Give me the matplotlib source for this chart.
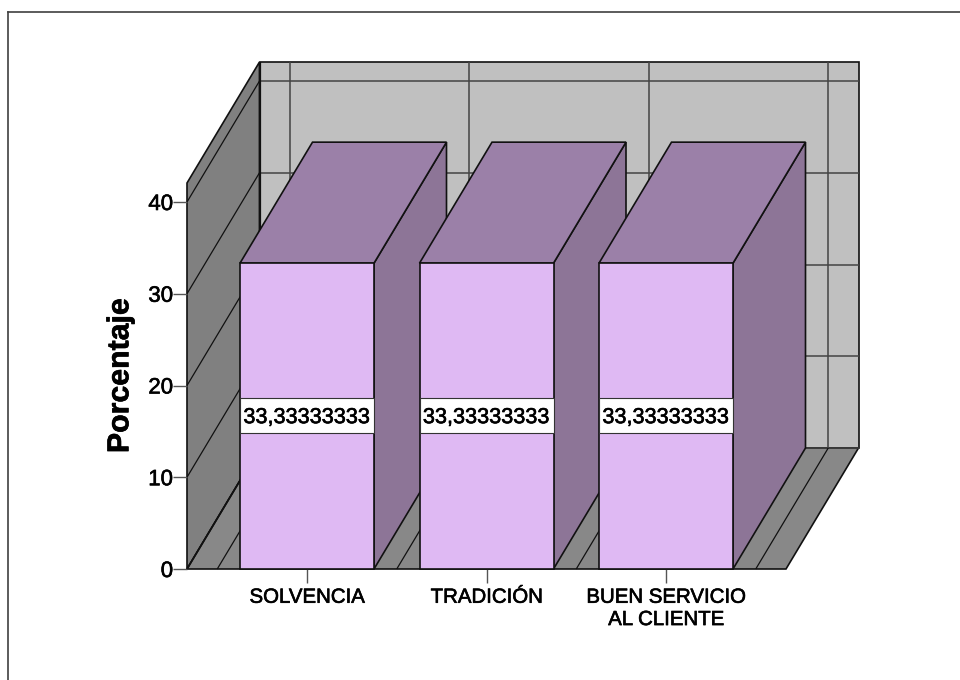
import matplotlib
matplotlib.use('Agg')
import matplotlib.pyplot as plt
import matplotlib.patheffects as pe
from matplotlib.lines import Line2D
from matplotlib.patches import Polygon, Rectangle

plt.rcParams['font.family'] = ['Liberation Sans', 'DejaVu Sans']

categorias = ['SOLVENCIA', 'TRADICIÓN', 'BUEN SERVICIO\nAL CLIENTE']
valores = [33.33333333, 33.33333333, 33.33333333]
ticks_y = [0, 10, 20, 30, 40]

W, H = 960, 680

# plano frontal del grafico en pixeles
izq, der, abajo, arriba = 187, 786, 569, 183
paso_x = 179.5
centro_0 = 307
x0 = (izq - centro_0) / paso_x
x1 = (der - centro_0) / paso_x
y_max = (abajo - arriba) / 9.175

# desplazamiento oblicuo de la profundidad, en unidades de datos
prof_x = 72.5 / paso_x
prof_y = 121 / 9.175
ancho_barra = 134 / paso_x
alto_caja = 35 / 9.175

c_pared = '#808080'
c_piso = '#888888'
c_fondo = '#c0c0c0'
c_frente = '#dfb9f3'
c_tapa = '#9b80a8'
c_lado = '#8d7597'

# trazo fino para engrosar el texto
grueso = [pe.withStroke(linewidth=0.45, foreground='black')]

fig = plt.figure(figsize=(W / 100, H / 100), dpi=100, facecolor='white')

# solo hay borde arriba y a la izquierda
fig.add_artist(Line2D([7.5 / W, 1], [1 - 11.5 / H, 1 - 11.5 / H], color='#404040', linewidth=1.2))
fig.add_artist(Line2D([7.5 / W, 7.5 / W], [0, 1 - 11.5 / H], color='#404040', linewidth=1.2))

ax = fig.add_axes([izq / W, 1 - abajo / H, (der - izq) / W, (abajo - arriba) / H])
ax.set_xlim(x0, x1)
ax.set_ylim(0, y_max)
ax.patch.set_visible(False)
for s in ax.spines.values():
    s.set_visible(False)


def poligono(puntos, color, lw=1.2, borde='#111111', z=1):
    ax.add_patch(Polygon(puntos, closed=True, facecolor=color, edgecolor=borde,
                         linewidth=lw, clip_on=False, zorder=z))


def linea(xs, ys, color='#111111', lw=0.9, z=1.5):
    ax.plot(xs, ys, color=color, linewidth=lw, clip_on=False, zorder=z, solid_capstyle='butt')


# pared del fondo, pared izquierda y piso
poligono([(x0 + prof_x, prof_y), (x1 + prof_x, prof_y),
          (x1 + prof_x, y_max + prof_y), (x0 + prof_x, y_max + prof_y)], c_fondo)
poligono([(x0, 0), (x0 + prof_x, prof_y), (x0 + prof_x, y_max + prof_y), (x0, y_max)], c_pared)
poligono([(x0, 0), (x1, 0), (x1 + prof_x, prof_y), (x0 + prof_x, prof_y)], c_piso)

# rejilla sobre las paredes
for t in ticks_y:
    linea([x0 + prof_x, x1 + prof_x], [t + prof_y, t + prof_y], color='#444444', lw=1.1)
    if t > 0:
        linea([x0, x0 + prof_x], [t, t + prof_y])
for b in [-0.5, 0.5, 1.5, 2.5]:
    linea([b + prof_x, b + prof_x], [prof_y, y_max + prof_y], color='#444444', lw=1.1)
    linea([b, b + prof_x], [0, prof_y])
linea([x0, x0 + prof_x], [0, prof_y], lw=1.2)
linea([x0 + prof_x, x0 + prof_x], [prof_y, y_max + prof_y], lw=1.6, z=1.6)

# barras de izquierda a derecha
for i, v in enumerate(valores):
    a = i - ancho_barra / 2
    b = i + ancho_barra / 2
    poligono([(b, 0), (b + prof_x, prof_y), (b + prof_x, v + prof_y), (b, v)], c_lado, z=3 + i)
    poligono([(a, v), (b, v), (b + prof_x, v + prof_y), (a + prof_x, v + prof_y)], c_tapa, z=3 + i)
    poligono([(a, 0), (b, 0), (b, v), (a, v)], c_frente, z=3 + i)
    ax.add_patch(Rectangle((a, v / 2 - alto_caja / 2 + 0.06), ancho_barra, alto_caja, facecolor='white',
                           edgecolor='#333333', linewidth=0.8, clip_on=False, zorder=3.5 + i))
    ax.text(i, v / 2 + 0.1, f'{v:.8f}'.replace('.', ','), ha='center', va='center_baseline',
            fontsize=15.6, color='black', zorder=3.6 + i, path_effects=grueso)

ax.set_xticks(range(len(categorias)))
ax.set_xticklabels(categorias, fontsize=14.7, linespacing=1.22)
ax.set_yticks(ticks_y)
ax.tick_params(axis='x', length=10, width=1.0, color='#555555', pad=3.5)
ax.tick_params(axis='y', length=10, width=1.0, color='#555555', pad=0, labelsize=16)
for etiqueta in ax.get_xticklabels() + ax.get_yticklabels():
    etiqueta.set_path_effects(grueso)
ax.set_ylabel('Porcentaje', fontsize=21.8, fontweight='bold', labelpad=10, y=0.5)
ax.yaxis.label.set_path_effects(grueso)

fig.savefig('out.png', dpi=100)
